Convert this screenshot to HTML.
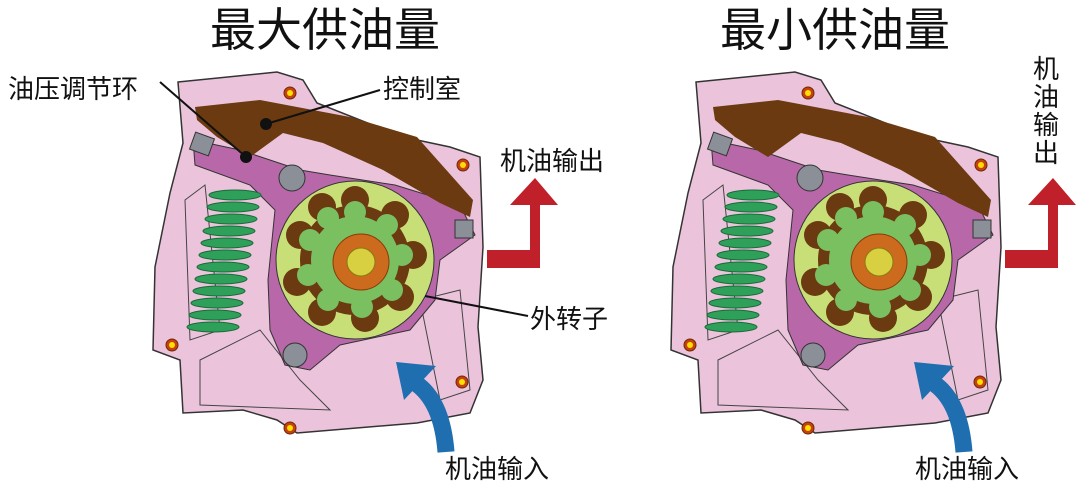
<!DOCTYPE html>
<html><head><meta charset="utf-8"><style>
body{margin:0;background:#fff;width:1080px;height:495px;overflow:hidden}
svg{display:block}
text{font-family:"Liberation Sans","Noto Sans CJK SC",sans-serif;fill:#111}
</style></head><body>
<svg width="1080" height="495" viewBox="0 0 1080 495">
<defs>
<g id="pump">
  <path d="M178,82 L277,72 L303,80 L317,103 L403,137 L450,147 L480,157 L483,247 L478,327 L483,380 L470,413 L417,423 L297,433 L277,420 L243,410 L183,413 L180,360 L153,350 L155,267 L170,193 L183,143 Z" fill="#ebc4dc" stroke="#333" stroke-width="1.5"/>
  <path d="M185,200 L205,185 L220,330 L190,340 Z M200,360 L260,330 L300,380 L330,410 L200,405 Z M420,300 L460,290 L470,390 L440,400 Z" fill="none" stroke="#444" stroke-width="1"/>
  <path d="M193,140 L240,150 L300,170 L330,175 L395,185 L460,205 L475,235 L440,260 L435,300 L410,330 L340,345 L310,370 L285,365 L270,330 L268,280 L275,210 L250,185 L195,165 Z" fill="#b868a8" stroke="#333"/>
  <path d="M195,107 L260,100 L350,117 L417,137 L473,200 L470,217 L440,203 L383,170 L323,143 L283,133 L250,157 L217,137 L197,120 Z" fill="#6b3a10"/>
  <rect x="192" y="135" width="20" height="18" fill="#8a8f98" stroke="#333" transform="rotate(20 202 144)"/>
  <rect x="455" y="220" width="18" height="18" fill="#8a8f98" stroke="#333"/>
  <circle cx="292" cy="178" r="13" fill="#8a8f98" stroke="#333"/>
  <circle cx="295" cy="355" r="12" fill="#8a8f98" stroke="#333"/>
  <g fill="#2ea05a" stroke="#1b6a3a" stroke-width="1">
    <ellipse cx="235" cy="195" rx="26" ry="5"/><ellipse cx="233" cy="207" rx="26" ry="5"/><ellipse cx="231" cy="219" rx="26" ry="5"/><ellipse cx="229" cy="231" rx="26" ry="5"/><ellipse cx="227" cy="243" rx="26" ry="5"/><ellipse cx="225" cy="255" rx="26" ry="5"/><ellipse cx="223" cy="267" rx="26" ry="5"/><ellipse cx="221" cy="279" rx="26" ry="5"/><ellipse cx="219" cy="291" rx="26" ry="5"/><ellipse cx="217" cy="303" rx="26" ry="5"/><ellipse cx="215" cy="315" rx="26" ry="5"/><ellipse cx="213" cy="327" rx="26" ry="5"/>
  </g>
  <circle cx="355" cy="260" r="79" fill="#c8df78" stroke="#333"/>
  <g fill="#6b3a10">
    <circle cx="355" cy="260" r="55"/>
    <circle cx="355" cy="200" r="14"/><circle cx="395" cy="215" r="14"/><circle cx="413" cy="255" r="14"/><circle cx="400" cy="297" r="14"/><circle cx="365" cy="318" r="14"/><circle cx="322" cy="312" r="14"/><circle cx="297" cy="282" r="14"/><circle cx="300" cy="235" r="14"/><circle cx="322" cy="207" r="14"/>
  </g>
  <g fill="#7ac060">
    <circle cx="355" cy="260" r="44"/>
    <circle cx="355" cy="212" r="11"/><circle cx="387" cy="225" r="11"/><circle cx="402" cy="255" r="11"/><circle cx="392" cy="290" r="11"/><circle cx="362" cy="307" r="11"/><circle cx="328" cy="300" r="11"/><circle cx="308" cy="275" r="11"/><circle cx="310" cy="240" r="11"/><circle cx="328" cy="218" r="11"/>
  </g>
  <circle cx="361" cy="262" r="28" fill="#cc6a1e" stroke="#8a3a0a"/>
  <circle cx="361" cy="262" r="14" fill="#d8d040" stroke="#8a7a10"/>
  <g fill="#c84010" stroke="#6a2a0a"><circle cx="290" cy="93" r="6"/><circle cx="463" cy="165" r="6"/><circle cx="172" cy="345" r="6"/><circle cx="462" cy="382" r="6"/><circle cx="290" cy="428" r="6"/></g>
  <g fill="#ffe000"><circle cx="290" cy="93" r="3"/><circle cx="463" cy="165" r="3"/><circle cx="172" cy="345" r="3"/><circle cx="462" cy="382" r="3"/><circle cx="290" cy="428" r="3"/></g>
  <path d="M487,250 L530,250 L530,205 L510,205 L535,178 L558,205 L540,205 L540,268 L487,268 Z" fill="#c0202a"/>
  <path d="M446,452 Q442,400 414,382" fill="none" stroke="#1f6fb0" stroke-width="17"/>
  <polygon points="396,362 436,366 404,400" fill="#1f6fb0"/>
</g>
</defs>
<use href="#pump"/>
<use href="#pump" transform="translate(518,0)"/>
<text x="325" y="46" font-size="46" text-anchor="middle">最大供油量</text>
<text x="835" y="46" font-size="46" text-anchor="middle">最小供油量</text>
<text x="8" y="98" font-size="26">油压调节环</text>
<text x="383" y="98" font-size="26">控制室</text>
<text x="500" y="170" font-size="26">机油输出</text>
<text x="530" y="328" font-size="26">外转子</text>
<text x="445" y="478" font-size="26">机油输入</text>
<text x="915" y="478" font-size="26">机油输入</text>
<g font-size="26"><text x="1033" y="78">机</text><text x="1033" y="106">油</text><text x="1033" y="134">输</text><text x="1033" y="162">出</text></g>
<g stroke="#111" stroke-width="2" fill="#111">
<line x1="160" y1="82" x2="246" y2="157"/><circle cx="246" cy="157" r="5"/>
<line x1="380" y1="90" x2="266" y2="124"/><circle cx="266" cy="124" r="5"/>
<line x1="425" y1="296" x2="528" y2="316"/>
</g>
</svg>
</body></html>
